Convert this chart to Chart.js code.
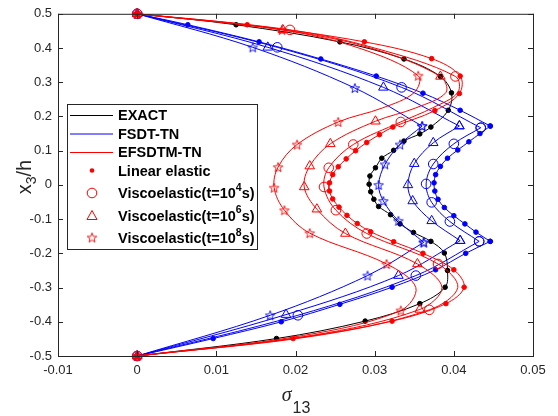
<!DOCTYPE html>
<html>
<head>
<meta charset="utf-8">
<script src="https://cdn.jsdelivr.net/npm/chart.js@4.4.1/dist/chart.umd.min.js"></script>
<style>
  html, body { margin: 0; padding: 0; background: #fff; }
</style>
</head>
<body>
<canvas id="myChart" width="558" height="416"></canvas>
<script>
"use strict";

// axis ticks
const xTicks = [-0.01, 0, 0.01, 0.02, 0.03, 0.04, 0.05];
const xTickLabels = ["-0.01", "0", "0.01", "0.02", "0.03", "0.04", "0.05"];
const yTicks = [-0.5, -0.4, -0.3, -0.2, -0.1, 0, 0.1, 0.2, 0.3, 0.4, 0.5];
const yTickLabels = ["-0.5", "-0.4", "-0.3", "-0.2", "-0.1", "0", "0.1", "0.2", "0.3", "0.4", "0.5"];

// EXACT (linear elastic)
const exactZ = [0.5, 0.468, 0.418, 0.368, 0.317, 0.269, 0.218, 0.169, 0.149, 0.128, 0.101, 0.078, 0.050, 0.026, 0.002, -0.020, -0.042, -0.063, -0.087, -0.114, -0.139, -0.165, -0.199, -0.250, -0.299, -0.347, -0.398, -0.449, -0.5];
const exactS = [0, 0.0125, 0.0256, 0.0337, 0.0383, 0.0397, 0.0393, 0.0371, 0.0357, 0.0337, 0.0324, 0.0309, 0.0301, 0.0294, 0.0293, 0.0295, 0.0299, 0.0305, 0.0320, 0.0332, 0.0349, 0.0371, 0.0388, 0.0392, 0.0389, 0.0357, 0.0288, 0.0176, 0];

// FSDT-TN
const blueDotZ = [0.5, 0.468, 0.418, 0.368, 0.318, 0.268, 0.218, 0.172, 0.150, 0.126, 0.102, 0.078, 0.054, 0.030, 0.006, -0.018, -0.042, -0.066, -0.090, -0.114, -0.138, -0.165, -0.200, -0.248, -0.299, -0.349, -0.400, -0.449, -0.5];
const blueDotS = [0, 0.0064, 0.0154, 0.0232, 0.0302, 0.0361, 0.0408, 0.0446, 0.0433, 0.0419, 0.0405, 0.0392, 0.0383, 0.0377, 0.0375, 0.0376, 0.0380, 0.0388, 0.0400, 0.0414, 0.0428, 0.0446, 0.0415, 0.0377, 0.0322, 0.0256, 0.0182, 0.0096, 0];
const blueDotKinks = [7, 21];

const blueCircZ = [0.5, 0.402, 0.285, 0.167, 0.120, 0.061, 0.003, -0.051, -0.107, -0.165, -0.265, -0.381, -0.5];
const blueCircS = [0, 0.0177, 0.0334, 0.0434, 0.0400, 0.0374, 0.0365, 0.0372, 0.0395, 0.0432, 0.0352, 0.0203, 0];
const blueCircKinks = [3, 9];

const blueTriZ = [0.5, 0.402, 0.285, 0.172, 0.123, 0.062, 0.000, -0.047, -0.105, -0.163, -0.265, -0.379, -0.5];
const blueTriS = [0, 0.0165, 0.0311, 0.0407, 0.0374, 0.0350, 0.0342, 0.0348, 0.0372, 0.0408, 0.0330, 0.0188, 0];
const blueTriKinks = [3, 9];

const blueStarZ = [0.5, 0.402, 0.283, 0.172, 0.118, 0.060, 0.000, -0.047, -0.105, -0.168, -0.265, -0.381, -0.5];
const blueStarS = [0, 0.0146, 0.0275, 0.0360, 0.0332, 0.0313, 0.0305, 0.0311, 0.0330, 0.0362, 0.0291, 0.0168, 0];
const blueStarKinks = [3, 9];

// EFSDTM-TN
const redDotZ = [0.5, 0.468, 0.418, 0.369, 0.318, 0.267, 0.217, 0.169, 0.147, 0.124, 0.100, 0.076, 0.053, 0.030, 0.006, -0.018, -0.041, -0.065, -0.089, -0.113, -0.137, -0.166, -0.200, -0.248, -0.299, -0.347, -0.398, -0.449, -0.5];
const redDotS = [0, 0.0139, 0.0287, 0.0372, 0.0408, 0.0407, 0.0376, 0.0323, 0.0306, 0.0290, 0.0276, 0.0264, 0.0254, 0.0247, 0.0243, 0.0243, 0.0247, 0.0255, 0.0265, 0.0278, 0.0295, 0.0324, 0.0361, 0.0400, 0.0413, 0.0390, 0.0322, 0.0197, 0];

// marks: 1 = marker drawn, 0 = line point only
const redCircZ = [0.5, 0.453, 0.40, 0.317, 0.27, 0.225, 0.184, 0.118, 0.050, -0.006, -0.074, -0.142, -0.231, -0.30, -0.365, -0.44, -0.5];
const redCircS = [0, 0.0193, 0.0300, 0.0402, 0.0405, 0.0373, 0.0333, 0.0273, 0.0242, 0.0236, 0.0251, 0.0290, 0.0380, 0.0405, 0.0369, 0.0228, 0];
const redCircM = [1, 1, 0, 1, 0, 0, 1, 1, 1, 1, 1, 1, 1, 0, 1, 0, 1];

const redTriZ = [0.5, 0.453, 0.40, 0.317, 0.27, 0.225, 0.186, 0.120, 0.055, -0.006, -0.071, -0.142, -0.231, -0.30, -0.364, -0.44, -0.5];
const redTriS = [0, 0.0184, 0.0295, 0.0383, 0.0390, 0.0352, 0.0301, 0.0244, 0.0218, 0.0211, 0.0227, 0.0263, 0.0354, 0.0385, 0.0357, 0.0220, 0];
const redTriM = [1, 1, 0, 1, 0, 0, 1, 1, 1, 1, 1, 1, 1, 0, 1, 0, 1];

const redStarZ = [0.5, 0.453, 0.40, 0.319, 0.27, 0.225, 0.184, 0.118, 0.052, -0.008, -0.074, -0.141, -0.231, -0.30, -0.367, -0.44, -0.5];
const redStarS = [0, 0.0183, 0.0280, 0.0355, 0.0350, 0.0310, 0.0254, 0.0202, 0.0178, 0.0173, 0.0186, 0.0218, 0.0315, 0.0352, 0.0333, 0.0210, 0];
const redStarM = [1, 1, 0, 1, 0, 0, 1, 1, 1, 1, 1, 1, 1, 0, 1, 0, 1];

const legendLabels = ["EXACT", "FSDT-TN", "EFSDTM-TN", "Linear elastic",
  ["Viscoelastic(t=10", "4", "s)"], ["Viscoelastic(t=10", "6", "s)"], ["Viscoelastic(t=10", "8", "s)"]];

const RED = "#ff0000";
const BLUE = "#0000ff";
const BLACK = "#000000";
const FONT = '"Liberation Sans", Arial, Helvetica, sans-serif';

function makeStar(color) {
  const c = document.createElement("canvas");
  c.width = 12;
  c.height = 12;
  const g = c.getContext("2d");
  g.strokeStyle = color;
  g.lineWidth = 0.9;
  g.beginPath();
  for (let i = 0; i < 10; i++) {
    const a = -Math.PI / 2 + i * Math.PI / 5;
    const r = i % 2 ? 2.1 : 5;
    const px = 6 + r * Math.cos(a);
    const py = 6.5 + r * Math.sin(a);
    if (i === 0) g.moveTo(px, py);
    else g.lineTo(px, py);
  }
  g.closePath();
  g.stroke();
  return c;
}
const redStar = makeStar(RED);
const blueStar = makeStar(BLUE);

function points(zs, ss) {
  return zs.map((z, i) => ({ x: ss[i], y: z }));
}

function curve(zs, ss, marks, color, style, radius, filled, order) {
  return {
    data: points(zs, ss),
    showLine: true,
    borderColor: color,
    borderWidth: 1,
    tension: 0.35,
    pointStyle: style,
    pointRadius: marks ? marks.map((m) => (m ? radius : 0)) : radius,
    pointBorderColor: color,
    pointBackgroundColor: filled ? color : "rgba(0,0,0,0)",
    pointBorderWidth: 1,
    clip: false,
    order: order,
  };
}

// FSDT curves have a kink at the layer interfaces: one dataset per layer
function layered(zs, ss, kinks, color, style, radius, filled, order) {
  const b = [0, ...kinks, zs.length - 1];
  const out = [];
  for (let i = 0; i < b.length - 1; i++) {
    out.push(curve(zs.slice(b[i], b[i + 1] + 1), ss.slice(b[i], b[i + 1] + 1), null, color, style, radius, filled, order));
  }
  return out;
}

const datasets = [
  curve(exactZ, exactS, null, BLACK, "circle", 2.3, true, 3),
  ...layered(blueDotZ, blueDotS, blueDotKinks, BLUE, "circle", 2.3, true, 2),
  ...layered(blueCircZ, blueCircS, blueCircKinks, BLUE, "circle", 4.8, false, 2),
  ...layered(blueTriZ, blueTriS, blueTriKinks, BLUE, "triangle", 5.5, false, 2),
  ...layered(blueStarZ, blueStarS, blueStarKinks, BLUE, blueStar, 5, false, 2),
  curve(redDotZ, redDotS, null, RED, "circle", 2.3, true, 1),
  curve(redCircZ, redCircS, redCircM, RED, "circle", 4.8, false, 1),
  curve(redTriZ, redTriS, redTriM, RED, "triangle", 5.5, false, 1),
  curve(redStarZ, redStarS, redStarM, RED, redStar, 5, false, 1),
];

const framePlugin = {
  id: "frame",
  afterDatasetsDraw(chart) {
    const ctx = chart.ctx;
    const a = chart.chartArea;
    const x = chart.scales.x;
    const y = chart.scales.y;
    ctx.save();
    ctx.strokeStyle = "#262626";
    ctx.lineWidth = 1;
    ctx.strokeRect(a.left + 0.5, a.top + 0.5, a.right - a.left, a.bottom - a.top);
    ctx.beginPath();
    xTicks.forEach((v) => {
      const px = Math.round(x.getPixelForValue(v)) + 0.5;
      ctx.moveTo(px, a.bottom);
      ctx.lineTo(px, a.bottom - 5);
      ctx.moveTo(px, a.top);
      ctx.lineTo(px, a.top + 5);
    });
    yTicks.forEach((v) => {
      const py = Math.round(y.getPixelForValue(v)) + 0.5;
      ctx.moveTo(a.left, py);
      ctx.lineTo(a.left + 5, py);
      ctx.moveTo(a.right, py);
      ctx.lineTo(a.right - 5, py);
    });
    ctx.stroke();

    // axis titles
    ctx.fillStyle = "#262626";
    ctx.textBaseline = "alphabetic";
    ctx.textAlign = "left";
    ctx.font = 'italic 20px "Liberation Serif", "Times New Roman", serif';
    const ws = ctx.measureText("\u03c3").width;
    ctx.font = "16px " + FONT;
    const w13 = ctx.measureText("13").width;
    let sx = (a.left + a.right) / 2 - (ws + w13) / 2;
    ctx.font = 'italic 20px "Liberation Serif", "Times New Roman", serif';
    ctx.fillText("\u03c3", sx, 401);
    ctx.font = "16px " + FONT;
    ctx.fillText("13", sx + ws + 1, 413);

    ctx.save();
    ctx.translate(31, 177);
    ctx.rotate(-Math.PI / 2);
    ctx.font = "20px " + FONT;
    const wx = ctx.measureText("x").width;
    const wh = ctx.measureText("/h").width;
    ctx.font = "14px " + FONT;
    const w3 = ctx.measureText("3").width;
    sx = -(wx + w3 + wh) / 2;
    ctx.font = "20px " + FONT;
    ctx.fillText("x", sx, 0);
    ctx.fillText("/h", sx + wx + w3, 0);
    ctx.font = "14px " + FONT;
    ctx.fillText("3", sx + wx, 5);
    ctx.restore();

    // legend
    const lx = 67, ly = 104, lw = 190, lh = 145;
    ctx.fillStyle = "#ffffff";
    ctx.fillRect(lx, ly, lw, lh);
    ctx.strokeStyle = "#262626";
    ctx.strokeRect(lx + 0.5, ly + 0.5, lw, lh);
    const rows = [115, 133.5, 152, 170.5, 193, 215.5, 238];
    const lineColors = [BLACK, BLUE, RED];
    for (let i = 0; i < 3; i++) {
      ctx.strokeStyle = lineColors[i];
      ctx.beginPath();
      ctx.moveTo(70, rows[i] + 0.5);
      ctx.lineTo(113, rows[i] + 0.5);
      ctx.stroke();
    }
    // legend markers
    ctx.strokeStyle = RED;
    ctx.fillStyle = RED;
    ctx.beginPath();
    ctx.arc(92, rows[3], 2.3, 0, Math.PI * 2);
    ctx.fill();
    ctx.beginPath();
    ctx.arc(92, rows[4], 4.8, 0, Math.PI * 2);
    ctx.stroke();
    ctx.beginPath();
    ctx.moveTo(92, rows[5] - 5);
    ctx.lineTo(97, rows[5] + 4);
    ctx.lineTo(87, rows[5] + 4);
    ctx.closePath();
    ctx.stroke();
    ctx.drawImage(redStar, 86, rows[6] - 6.5);

    ctx.fillStyle = "#000000";
    ctx.textBaseline = "middle";
    legendLabels.forEach((lab, i) => {
      const ty = rows[i] + 1;
      ctx.font = "bold 14.5px " + FONT;
      if (typeof lab === "string") {
        ctx.fillText(lab, 118, ty);
      } else {
        ctx.fillText(lab[0], 118, ty);
        let tx = 118 + ctx.measureText(lab[0]).width;
        ctx.font = "bold 10.5px " + FONT;
        ctx.fillText(lab[1], tx, ty - 6);
        tx += ctx.measureText(lab[1]).width;
        ctx.font = "bold 14.5px " + FONT;
        ctx.fillText(lab[2], tx, ty);
      }
    });
    ctx.restore();
  },
};

Chart.defaults.font.family = FONT;
Chart.defaults.color = "#262626";

new Chart(document.getElementById("myChart"), {
  type: "scatter",
  data: { datasets: datasets },
  options: {
    responsive: false,
    animation: false,
    events: [],
    layout: { padding: { left: 0, top: 12, right: 25, bottom: 0 } },
    plugins: { legend: { display: false }, tooltip: { enabled: false } },
    scales: {
      x: {
        type: "linear",
        min: -0.01,
        max: 0.05,
        afterBuildTicks: (s) => { s.ticks = xTicks.map((v) => ({ value: v })); },
        afterFit: (s) => { s.height = 60; },
        grid: { display: false, drawTicks: false },
        border: { display: false },
        ticks: {
          font: { size: 13 },
          padding: 7,
          maxRotation: 0,
          callback: (v) => xTickLabels[xTicks.findIndex((t) => Math.abs(t - v) < 1e-9)],
        },
      },
      y: {
        type: "linear",
        min: -0.5,
        max: 0.5,
        afterBuildTicks: (s) => { s.ticks = yTicks.map((v) => ({ value: v })); },
        afterFit: (s) => { s.width = 58; },
        grid: { display: false, drawTicks: false },
        border: { display: false },
        ticks: {
          font: { size: 13 },
          padding: 6,
          callback: (v) => yTickLabels[yTicks.findIndex((t) => Math.abs(t - v) < 1e-9)],
        },
      },
    },
  },
  plugins: [framePlugin],
});
</script>
</body>
</html>
